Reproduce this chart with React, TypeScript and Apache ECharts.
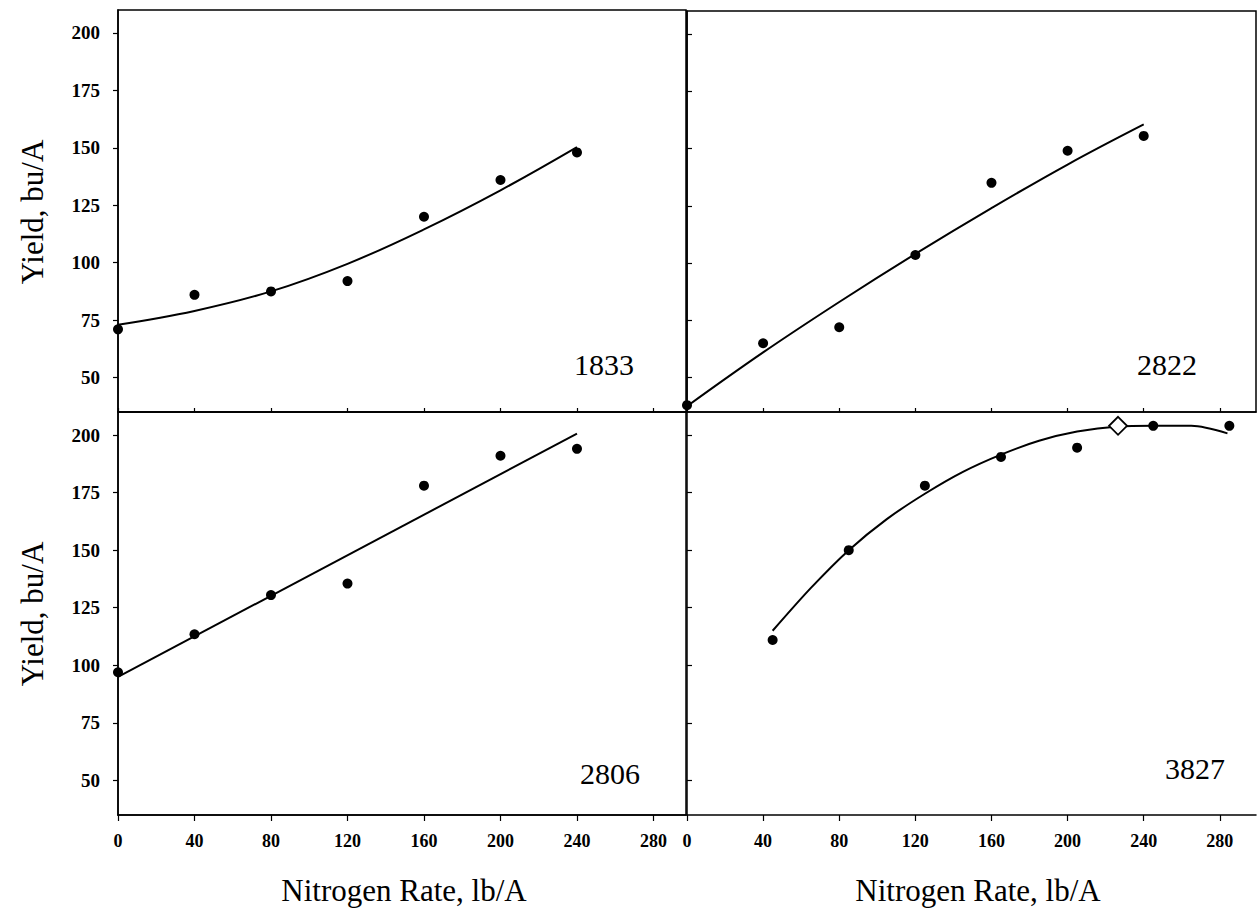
import React, { useEffect, useRef } from "react";
import * as echarts from "echarts";

// Tick values
const xTicks = [0, 40, 80, 120, 160, 200, 240, 280];
const yTicks = [50, 75, 100, 125, 150, 175, 200];

// Panel 1833 (top-left)
const rates = [0, 40, 80, 120, 160, 200, 240];
const yield1833 = [71, 86, 87.5, 92, 120, 136, 148];
const fit1833 = [73, 79, 87.5, 99.5, 114.5, 131.5, 150.3];

// Panel 2822 (top-right)
const yield2822 = [38, 65, 72, 103.5, 135, 149, 155.5];
const fit2822 = [37.5, 61, 83, 104, 124, 143, 160.5];

// Panel 2806 (bottom-left)
const yield2806 = [97, 113.5, 130.5, 135.5, 178, 191, 194];
const fit2806X = [0, 240];
const fit2806 = [95, 200.6];

// Panel 3827 (bottom-right)
const rates3827 = [45, 85, 125, 165, 205, 245, 285];
const yield3827 = [111, 150, 178, 190.5, 194.5, 204, 204];
const fit3827X = [45, 65, 85, 105, 125, 145, 165, 185, 205, 226.5, 245, 265, 284];
const fit3827 = [115, 133.5, 150, 163.5, 174.5, 184, 191.5, 197.5, 201.5, 203.7, 204, 204, 200.7];
const optimum3827X = [226.5];
const optimum3827Y = [204];

const panelLabels = ["1833", "2822", "2806", "3827"];
const yTitle = "Yield, bu/A";
const xTitle = "Nitrogen Rate, lb/A";

const zip = (xs: number[], ys: number[]) => xs.map((x, i) => [x, ys[i]]);

const SERIF = '"Liberation Serif", "DejaVu Serif", serif';

export default function App() {
  const ref = useRef<HTMLDivElement>(null);

  useEffect(() => {
    if (!ref.current) return;
    const chart = echarts.init(ref.current, undefined, { renderer: "svg" });

    const black = "#000";
    const grids = [
      { left: 118, top: 10, width: 568, height: 402, show: true, borderColor: black, borderWidth: 1.5 },
      { left: 687, top: 11, width: 569, height: 401, show: true, borderColor: black, borderWidth: 1.5 },
      { left: 118, top: 412, width: 568, height: 403, show: true, borderColor: black, borderWidth: 1.5 },
      { left: 687, top: 412, width: 569, height: 403, show: false },
    ];
    const xMax = [297, 299, 297, 299];

    const xAxis = [0, 1, 2, 3].map((i) => {
      const bottom = i >= 2;
      return {
        type: "value",
        gridIndex: i,
        min: 0,
        max: xMax[i],
        axisLine: { show: true, onZero: false, lineStyle: { color: black, width: 1.5 } },
        axisTick: {
          show: true,
          inside: !bottom,
          length: bottom ? 6 : 4,
          customValues: xTicks,
          lineStyle: { color: black, width: 1.2 },
        },
        axisLabel: {
          show: bottom,
          customValues: xTicks,
          margin: 17,
          color: black,
          fontSize: 18,
          fontWeight: "bold",
          fontFamily: SERIF,
        },
        splitLine: { show: false },
      };
    });

    const yAxis = [0, 1, 2, 3].map((i) => {
      const left = i % 2 === 0;
      return {
        type: "value",
        gridIndex: i,
        min: 35,
        max: 210,
        axisLine: { show: true, onZero: false, lineStyle: { color: black, width: 1.5 } },
        axisTick: {
          show: true,
          inside: !left,
          length: 5,
          customValues: yTicks,
          lineStyle: { color: black, width: 1.2 },
        },
        axisLabel: {
          show: left,
          customValues: yTicks,
          margin: 18,
          color: black,
          fontSize: 19,
          fontWeight: "bold",
          fontFamily: SERIF,
        },
        splitLine: { show: false },
      };
    });

    const fitLine = (i: number, data: number[][], smooth: number | boolean) => ({
      type: "line",
      xAxisIndex: i,
      yAxisIndex: i,
      data,
      showSymbol: false,
      smooth,
      lineStyle: { color: black, width: 2 },
      z: 2,
      silent: true,
    });
    const dots = (i: number, data: number[][]) => ({
      type: "scatter",
      xAxisIndex: i,
      yAxisIndex: i,
      data,
      symbol: "circle",
      symbolSize: 10,
      itemStyle: { color: black, opacity: 1 },
      z: 3,
      silent: true,
    });

    const series: any[] = [
      fitLine(0, zip(rates, fit1833), 0.4),
      dots(0, zip(rates, yield1833)),
      fitLine(1, zip(rates, fit2822), 0.4),
      dots(1, zip(rates, yield2822)),
      fitLine(2, zip(fit2806X, fit2806), false),
      dots(2, zip(rates, yield2806)),
      fitLine(3, zip(fit3827X, fit3827), 0.3),
      dots(3, zip(rates3827, yield3827)),
      {
        type: "scatter",
        xAxisIndex: 3,
        yAxisIndex: 3,
        data: zip(optimum3827X, optimum3827Y),
        symbol: "diamond",
        symbolSize: [18, 18],
        itemStyle: { color: "#fff", borderColor: black, borderWidth: 1.8, opacity: 1 },
        z: 5,
        silent: true,
      },
    ];

    const labelFont = `30px ${SERIF}`;
    const titleFont = `31px ${SERIF}`;
    const graphic: any[] = [
      { type: "text", x: 634, y: 364, style: { text: panelLabels[0], font: labelFont, fill: black, align: "right", verticalAlign: "middle" } },
      { type: "text", x: 1197, y: 364, style: { text: panelLabels[1], font: labelFont, fill: black, align: "right", verticalAlign: "middle" } },
      { type: "text", x: 640, y: 773, style: { text: panelLabels[2], font: labelFont, fill: black, align: "right", verticalAlign: "middle" } },
      { type: "text", x: 1225, y: 768, style: { text: panelLabels[3], font: labelFont, fill: black, align: "right", verticalAlign: "middle" } },
      { type: "text", x: 32, y: 212, rotation: Math.PI / 2, style: { text: yTitle, font: titleFont, fill: black, align: "center", verticalAlign: "middle" } },
      { type: "text", x: 32, y: 614, rotation: Math.PI / 2, style: { text: yTitle, font: titleFont, fill: black, align: "center", verticalAlign: "middle" } },
      { type: "text", x: 404, y: 890, style: { text: xTitle, font: titleFont, fill: black, align: "center", verticalAlign: "middle" } },
      { type: "text", x: 978, y: 890, style: { text: xTitle, font: titleFont, fill: black, align: "center", verticalAlign: "middle" } },
    ];

    chart.setOption({
      animation: false,
      backgroundColor: "#fff",
      grid: grids,
      xAxis,
      yAxis,
      series,
      graphic,
    });

    return () => chart.dispose();
  }, []);

  return (
    <div
      ref={ref}
      style={{ position: "fixed", left: 0, top: 0, width: 1257, height: 918, background: "#fff" }}
    />
  );
}
